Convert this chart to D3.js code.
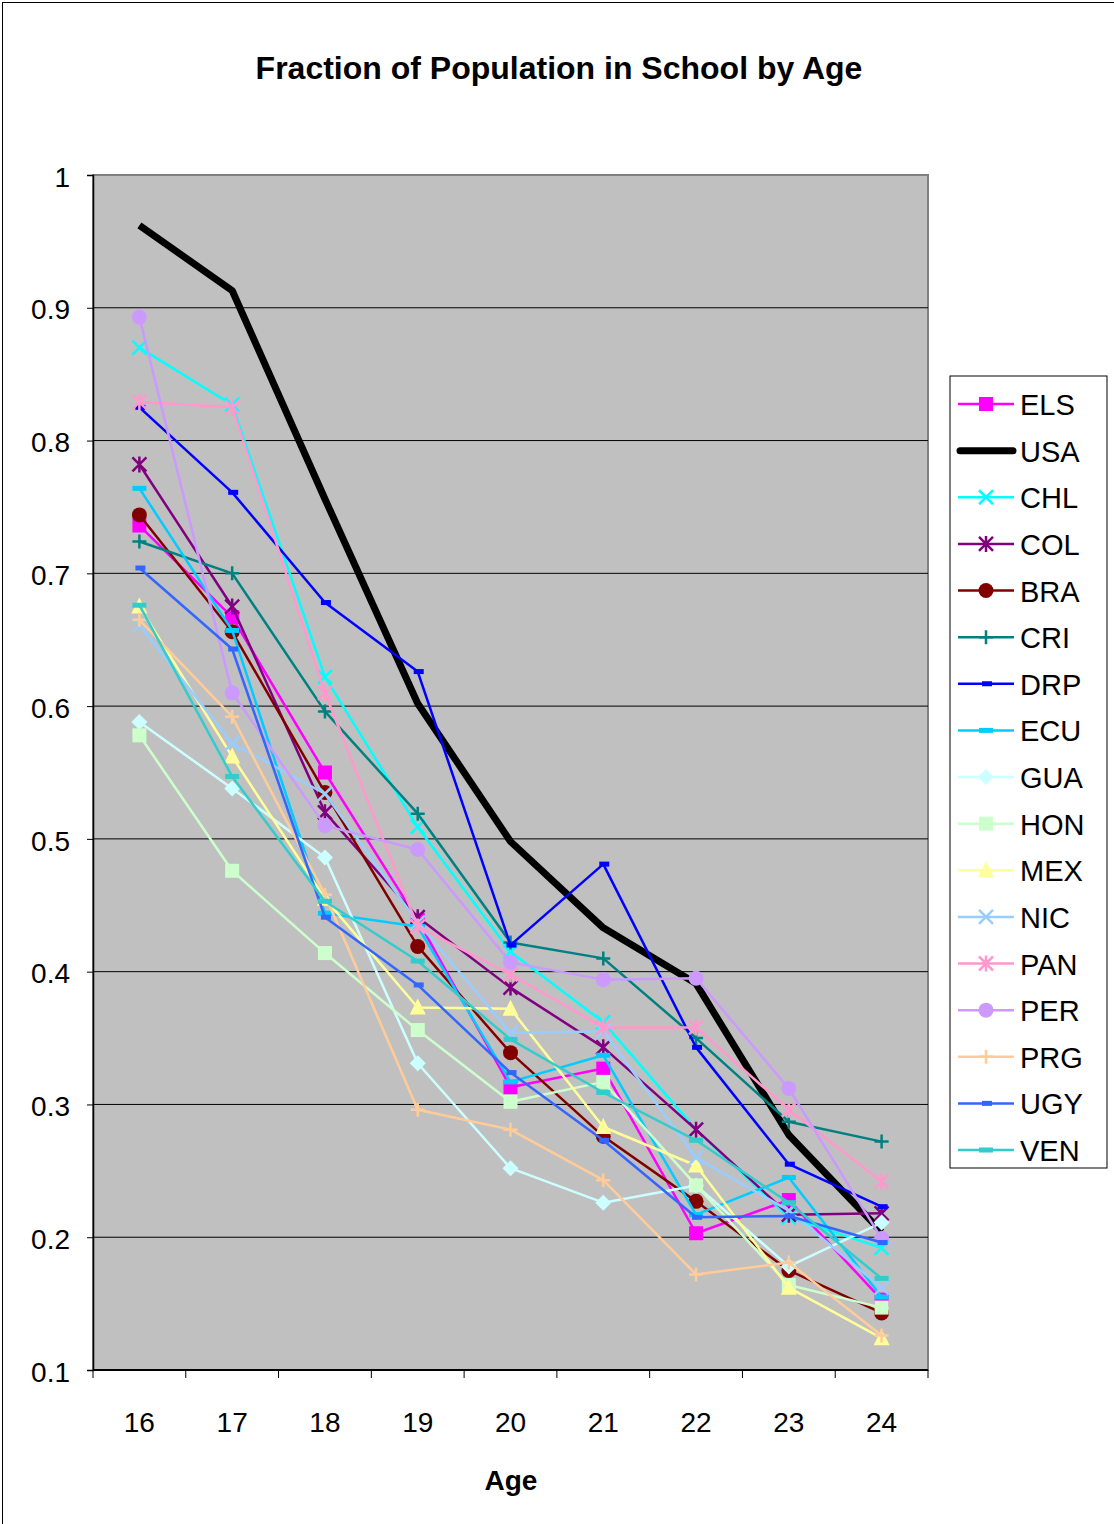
<!DOCTYPE html>
<html>
<head>
<meta charset="utf-8">
<script src="https://cdn.jsdelivr.net/npm/d3@7"></script>
<style>
  body { margin: 0; background: #fff; }
  svg { display: block; font-family: "Liberation Sans", Arial, sans-serif; }
</style>
</head>
<body>
<div id="chart"></div>
<script>
// ─── Data ────────────────────────────────────────────────────────────────
const ages = [16, 17, 18, 19, 20, 21, 22, 23, 24];
const yTicks = [0.1, 0.2, 0.3, 0.4, 0.5, 0.6, 0.7, 0.8, 0.9, 1];

const ELS = [0.736, 0.667, 0.550, 0.439, 0.313, 0.327, 0.203, 0.228, 0.153];
const USA = [0.962, 0.913, 0.756, 0.602, 0.498, 0.433, 0.391, 0.277, 0.204];
const CHL = [0.870, 0.827, 0.622, 0.509, 0.415, 0.362, 0.281, 0.215, 0.192];
const COL = [0.782, 0.675, 0.520, 0.441, 0.388, 0.343, 0.281, 0.217, 0.218];
const BRA = [0.744, 0.656, 0.535, 0.419, 0.339, 0.276, 0.227, 0.175, 0.143];
const CRI = [0.724, 0.700, 0.596, 0.519, 0.422, 0.410, 0.350, 0.287, 0.272];
const DRP = [0.825, 0.761, 0.678, 0.626, 0.420, 0.481, 0.343, 0.255, 0.223];
const ECU = [0.764, 0.657, 0.444, 0.434, 0.317, 0.337, 0.217, 0.245, 0.155];
const GUA = [0.588, 0.538, 0.486, 0.331, 0.252, 0.226, 0.239, 0.178, 0.211];
const HON = [0.578, 0.476, 0.414, 0.356, 0.302, 0.317, 0.239, 0.164, 0.147];
const MEX = [0.675, 0.562, 0.455, 0.373, 0.372, 0.283, 0.254, 0.162, 0.124];
const NIC = [0.661, 0.572, 0.534, 0.437, 0.354, 0.355, 0.260, 0.220, 0.162];
const PAN = [0.829, 0.825, 0.610, 0.434, 0.398, 0.358, 0.358, 0.296, 0.242];
const PER = [0.893, 0.610, 0.510, 0.492, 0.407, 0.394, 0.395, 0.312, 0.199];
const PRG = [0.665, 0.592, 0.458, 0.296, 0.281, 0.243, 0.172, 0.181, 0.126];
const UGY = [0.704, 0.643, 0.441, 0.390, 0.324, 0.273, 0.215, 0.216, 0.196];
const VEN = [0.676, 0.547, 0.453, 0.408, 0.349, 0.309, 0.273, 0.226, 0.169];

const series = [
  { name: 'ELS', values: ELS, color: '#ff00ff', marker: 'square' },
  { name: 'USA', values: USA, color: '#000000', marker: 'none', width: 7 },
  { name: 'CHL', values: CHL, color: '#00ffff', marker: 'x' },
  { name: 'COL', values: COL, color: '#800080', marker: 'star' },
  { name: 'BRA', values: BRA, color: '#800000', marker: 'circle' },
  { name: 'CRI', values: CRI, color: '#008080', marker: 'plus' },
  { name: 'DRP', values: DRP, color: '#0000ff', marker: 'dashS' },
  { name: 'ECU', values: ECU, color: '#00ccff', marker: 'dash' },
  { name: 'GUA', values: GUA, color: '#ccffff', marker: 'diamond' },
  { name: 'HON', values: HON, color: '#ccffcc', marker: 'square' },
  { name: 'MEX', values: MEX, color: '#ffff99', marker: 'triangle' },
  { name: 'NIC', values: NIC, color: '#99ccff', marker: 'x' },
  { name: 'PAN', values: PAN, color: '#ff99cc', marker: 'star' },
  { name: 'PER', values: PER, color: '#cc99ff', marker: 'circle' },
  { name: 'PRG', values: PRG, color: '#ffcc99', marker: 'plus' },
  { name: 'UGY', values: UGY, color: '#3366ff', marker: 'dashS' },
  { name: 'VEN', values: VEN, color: '#33cccc', marker: 'dash' }
];

// ─── Layout ──────────────────────────────────────────────────────────────
const W = 1114, H = 1524;
const plot = { left: 93, right: 928, top: 175, bottom: 1370 };

const svg = d3.select('#chart').append('svg')
  .attr('width', W).attr('height', H);

// outer frame
svg.append('rect')
  .attr('x', 2.5).attr('y', 2.5).attr('width', W + 10).attr('height', H + 10)
  .attr('fill', '#fff').attr('stroke', '#000').attr('stroke-width', 1);

const x = d3.scaleBand().domain(ages).range([plot.left, plot.right]);
const y = d3.scaleLinear().domain([0.1, 1]).range([plot.bottom, plot.top]);
const cx = a => x(a) + x.bandwidth() / 2;

// plot background
svg.append('rect')
  .attr('x', plot.left).attr('y', plot.top)
  .attr('width', plot.right - plot.left).attr('height', plot.bottom - plot.top)
  .attr('fill', '#c0c0c0').attr('stroke', '#808080').attr('stroke-width', 2);

// gridlines
svg.append('g').selectAll('line')
  .data(yTicks.filter(t => t > 0.1 && t < 1))
  .join('line')
  .attr('x1', plot.left).attr('x2', plot.right)
  .attr('y1', d => y(d)).attr('y2', d => y(d))
  .attr('stroke', '#000').attr('stroke-width', 1);

// y axis
svg.append('g')
  .attr('transform', `translate(${plot.left},0)`)
  .call(d3.axisLeft(y).tickValues(yTicks).tickSize(6).tickPadding(17)
    .tickFormat(d => d3.format('~g')(d)))
  .call(g => {
    g.select('.domain').attr('stroke', '#000').attr('stroke-width', 1.5);
    g.selectAll('line').attr('stroke', '#000');
    g.selectAll('text').attr('font-size', 28).attr('fill', '#000').attr('dy', '0.4em')
      .attr('font-family', '"Liberation Sans", Arial, sans-serif');
  });

// x axis (ticks at band edges)
const xAxisG = svg.append('g').attr('transform', `translate(0,${plot.bottom})`);
xAxisG.append('line')
  .attr('x1', plot.left).attr('x2', plot.right)
  .attr('stroke', '#000').attr('stroke-width', 2);
xAxisG.selectAll('.edge')
  .data(ages.concat(['end']))
  .join('line')
  .attr('class', 'edge')
  .attr('x1', d => d === 'end' ? plot.right : x(d))
  .attr('x2', d => d === 'end' ? plot.right : x(d))
  .attr('y1', 0).attr('y2', 8)
  .attr('stroke', '#000');
xAxisG.selectAll('text')
  .data(ages)
  .join('text')
  .attr('x', d => cx(d)).attr('y', 62)
  .attr('text-anchor', 'middle').attr('font-size', 28)
  .text(d => d);

// titles
svg.append('text')
  .attr('x', 559).attr('y', 79)
  .attr('text-anchor', 'middle').attr('font-size', 32).attr('font-weight', 'bold')
  .text('Fraction of Population in School by Age');

svg.append('text')
  .attr('x', 511).attr('y', 1490)
  .attr('text-anchor', 'middle').attr('font-size', 28).attr('font-weight', 'bold')
  .text('Age');

// ─── Markers ─────────────────────────────────────────────────────────────
function drawMarker(g, type, color, px, py) {
  const s = 7;
  switch (type) {
    case 'square':
      g.append('rect').attr('x', px - s).attr('y', py - s)
        .attr('width', 2 * s).attr('height', 2 * s).attr('fill', color);
      break;
    case 'circle':
      g.append('circle').attr('cx', px).attr('cy', py).attr('r', s + 0.5).attr('fill', color);
      break;
    case 'diamond':
      g.append('path')
        .attr('d', `M${px},${py - s - 1}L${px + s + 1},${py}L${px},${py + s + 1}L${px - s - 1},${py}Z`)
        .attr('fill', color);
      break;
    case 'triangle':
      g.append('path')
        .attr('d', `M${px},${py - s - 2}L${px + s + 1},${py + s}L${px - s - 1},${py + s}Z`)
        .attr('fill', color);
      break;
    case 'x':
      g.append('path')
        .attr('d', `M${px - s},${py - s}L${px + s},${py + s}M${px - s},${py + s}L${px + s},${py - s}`)
        .attr('stroke', color).attr('stroke-width', 2.5).attr('fill', 'none');
      break;
    case 'star':
      g.append('path')
        .attr('d', `M${px - s},${py - s}L${px + s},${py + s}M${px - s},${py + s}L${px + s},${py - s}M${px},${py - s - 1}L${px},${py + s + 1}`)
        .attr('stroke', color).attr('stroke-width', 2.5).attr('fill', 'none');
      break;
    case 'plus':
      g.append('path')
        .attr('d', `M${px - s},${py}L${px + s},${py}M${px},${py - s}L${px},${py + s}`)
        .attr('stroke', color).attr('stroke-width', 2.5).attr('fill', 'none');
      break;
    case 'dash':
      g.append('rect').attr('x', px - 7).attr('y', py - 2.5)
        .attr('width', 14).attr('height', 5).attr('fill', color);
      break;
    case 'dashS':
      g.append('rect').attr('x', px - 4).attr('y', py - 2.5)
        .attr('width', 10).attr('height', 5).attr('fill', color);
      break;
  }
}

// ─── Series ──────────────────────────────────────────────────────────────
const line = d3.line().x((d, i) => cx(ages[i])).y(d => y(d));
const seriesG = svg.append('g');

// later series sit on top, as in the original
series.forEach(s => {
  const g = seriesG.append('g');
  g.append('path')
    .attr('d', line(s.values))
    .attr('fill', 'none')
    .attr('stroke', s.color)
    .attr('stroke-width', s.width || 2.5)
    .attr('stroke-linejoin', 'round');
  if (s.marker !== 'none') {
    s.values.forEach((v, i) => drawMarker(g, s.marker, s.color, cx(ages[i]), y(v)));
  }
});

// ─── Legend ──────────────────────────────────────────────────────────────
const legend = svg.append('g');
legend.append('rect')
  .attr('x', 950).attr('y', 376).attr('width', 157).attr('height', 792)
  .attr('fill', '#fff').attr('stroke', '#000').attr('stroke-width', 1);

const legendY = d3.scaleLinear().domain([0, series.length - 1]).range([404, 1150]);

series.forEach((s, i) => {
  const ly = legendY(i);
  const g = legend.append('g');
  g.append('line')
    .attr('x1', s.width ? 960 : 958).attr('x2', s.width ? 1013 : 1014)
    .attr('y1', ly).attr('y2', ly)
    .attr('stroke', s.color).attr('stroke-width', s.width || 2.5)
    .attr('stroke-linecap', s.width ? 'round' : 'butt');
  if (s.marker !== 'none') drawMarker(g, s.marker, s.color, 986, ly);
  g.append('text')
    .attr('x', 1020).attr('y', ly + 11)
    .attr('font-size', 29)
    .text(s.name);
});
</script>
</body>
</html>
